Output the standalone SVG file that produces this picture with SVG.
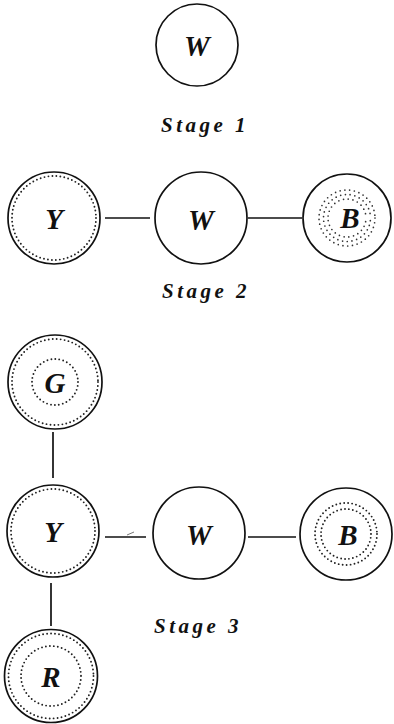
<svg xmlns="http://www.w3.org/2000/svg" width="394" height="724" viewBox="0 0 394 724">
<style>
.node{fill:#fff;stroke:#111;stroke-width:1.7}
.dots{fill:none;stroke:#222;stroke-width:1.9;stroke-linecap:round;stroke-dasharray:0 4}
.dots2{fill:none;stroke:#333;stroke-width:1.7;stroke-linecap:round;stroke-dasharray:0 4.8}
.lbl{font-family:"Liberation Serif","DejaVu Serif",serif;font-style:italic;font-weight:bold;font-size:29px;fill:#111;text-anchor:middle}
.stage{font-family:"Liberation Serif","DejaVu Serif",serif;font-style:italic;font-weight:bold;font-size:21px;fill:#111;letter-spacing:3.5px}
.conn{stroke:#111;stroke-width:1.7;fill:none}
</style>
<rect width="394" height="724" fill="#fff"/>
<g id="connectors">
<line class="conn" x1="105" y1="218" x2="150" y2="218"/>
<line class="conn" x1="248" y1="218" x2="302" y2="218"/>
<line class="conn" x1="53" y1="432" x2="53" y2="478"/>
<line class="conn" x1="105" y1="537" x2="146" y2="537"/>
<line class="conn" x1="248" y1="537" x2="296" y2="537"/>
<line class="conn" x1="51" y1="583" x2="51" y2="626"/>
<path d="M127 535 L134 532" stroke="#555" stroke-width="0.8" fill="none"/>
</g>
<g id="w1">
<circle class="node" cx="197" cy="45" r="41"/>
<text class="lbl" x="197" y="56">W</text>
</g>
<text class="stage" x="161" y="132">Stage 1</text>
<g id="y2">
<circle class="node" cx="54" cy="218" r="46"/>
<circle class="dots" cx="54" cy="218" r="42"/>
<text class="lbl" x="54" y="229">Y</text>
</g>
<g id="w2">
<circle class="node" cx="201" cy="218" r="46"/>
<text class="lbl" x="201" y="230">W</text>
</g>
<g id="b2">
<circle class="node" cx="347" cy="218" r="44"/>
<circle class="dots2" cx="347" cy="218" r="28"/>
<circle class="dots2" cx="347" cy="218" r="23.5" stroke-dashoffset="2"/>
<circle class="dots2" cx="347" cy="218" r="19" stroke-dashoffset="1"/>
<text class="lbl" x="350" y="228">B</text>
</g>
<text class="stage" x="162" y="298">Stage 2</text>
<g id="g3">
<circle class="node" cx="55" cy="382" r="47"/>
<circle class="dots" cx="55" cy="382" r="43"/>
<circle class="dots" cx="55" cy="382" r="23"/>
<text class="lbl" x="55" y="393">G</text>
</g>
<g id="y3">
<circle class="node" cx="53" cy="531" r="46"/>
<circle class="dots" cx="53" cy="531" r="42"/>
<text class="lbl" x="53" y="542">Y</text>
</g>
<g id="w3">
<circle class="node" cx="199" cy="533" r="46"/>
<text class="lbl" x="199" y="545">W</text>
</g>
<g id="b3">
<circle class="node" cx="346" cy="534" r="46"/>
<circle class="dots" cx="346" cy="534" r="31"/>
<circle class="dots" cx="346" cy="534" r="25"/>
<text class="lbl" x="348" y="545">B</text>
</g>
<text class="stage" x="154" y="633">Stage 3</text>
<g id="r3">
<circle class="node" cx="51" cy="676" r="46.5"/>
<circle class="dots" cx="51" cy="676" r="42.5"/>
<circle class="dots" cx="51" cy="676" r="30"/>
<text class="lbl" x="51" y="687">R</text>
</g>
</svg>
